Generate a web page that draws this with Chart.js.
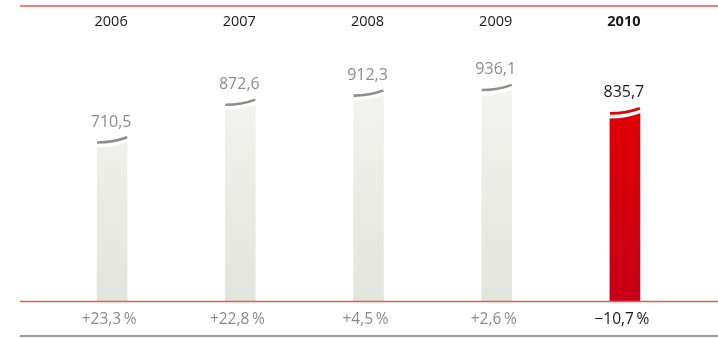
<!DOCTYPE html>
<html>
<head>
<meta charset="utf-8">
<script src="https://cdn.jsdelivr.net/npm/chart.js@4"></script>
<style>
  html, body { margin: 0; padding: 0; background: #fff; }
  #wrap { width: 718px; height: 338px; position: relative; }
</style>
</head>
<body>
<div id="wrap"><canvas id="c" width="718" height="338"></canvas></div>
<script>
const years = ['2006', '2007', '2008', '2009', '2010'];
const values = [710.5, 872.6, 912.3, 936.1, 835.7];
const changes = [23.3, 22.8, 4.5, 2.6, -10.7];
const highlight = [false, false, false, false, true];

const fmtVal = v => v.toFixed(1).replace('.', ',');
const fmtChg = v => (v >= 0 ? '+' : '\u2212') + Math.abs(v).toFixed(1).replace('.', ',') + '\u2009%';

const sans = '"Open Sans", "Noto Sans", sans-serif';

function barFill(context) {
  const chart = context.chart;
  const area = chart.chartArea;
  if (!area) return '#eee';
  const i = context.dataIndex;
  const g = chart.ctx.createLinearGradient(0, area.top + 60, 0, area.bottom);
  if (highlight[i]) {
    g.addColorStop(0, '#e60000');
    g.addColorStop(1, '#c70016');
  } else {
    g.addColorStop(0, '#f5f5f1');
    g.addColorStop(1, '#e4e4de');
  }
  return g;
}

const decor = {
  id: 'decor',
  beforeDraw(chart) {
    const ctx = chart.ctx;
    ctx.save();
    ctx.fillStyle = '#fff';
    ctx.fillRect(0, 0, chart.width, chart.height);
    ctx.restore();
  },
  afterDatasetsDraw(chart) {
    const ctx = chart.ctx;
    const meta = chart.getDatasetMeta(0);
    const xs = chart.scales.x;
    ctx.save();
    meta.data.forEach((bar, i) => {
      const w = bar.width;
      const L = bar.x - w / 2, R = bar.x + w / 2, y = bar.y;
      ctx.fillStyle = '#fff';
      ctx.beginPath();
      ctx.moveTo(L - 1, y - 2);
      ctx.lineTo(R + 1, y - 2);
      ctx.lineTo(R + 1, y + 6);
      ctx.quadraticCurveTo(L + w * 0.55, y + 11.5, L - 1, y + 11.5);
      ctx.closePath();
      ctx.fill();
      ctx.strokeStyle = highlight[i] ? '#e30000' : '#8e8e86';
      ctx.lineWidth = 2.6;
      ctx.lineCap = 'butt';
      ctx.beginPath();
      ctx.moveTo(L, y + 6.5);
      ctx.quadraticCurveTo(L + w * 0.55, y + 6.5, R, y + 1.3);
      ctx.stroke();
      ctx.fillStyle = highlight[i] ? '#1a1a1a' : '#8c8c8c';
      ctx.font = '16px ' + sans;
      ctx.textAlign = 'center';
      ctx.textBaseline = 'middle';
      ctx.fillText(fmtVal(values[i]), bar.x - 1, y - 14);
    });
    ctx.lineWidth = 1.5;
    ctx.strokeStyle = '#f05555';
    ctx.beginPath(); ctx.moveTo(20, 6); ctx.lineTo(718, 6); ctx.stroke();
    ctx.beginPath(); ctx.moveTo(20, 301.5); ctx.lineTo(718, 301.5); ctx.stroke();
    ctx.strokeStyle = '#9a9a9a';
    ctx.lineWidth = 2;
    ctx.beginPath(); ctx.moveTo(20, 336); ctx.lineTo(718, 336); ctx.stroke();
    ctx.textAlign = 'center';
    ctx.textBaseline = 'middle';
    years.forEach((yr, i) => {
      const x = xs.getPixelForValue(i);
      ctx.fillStyle = '#1a1a1a';
      ctx.font = (highlight[i] ? 'bold ' : '') + '14.5px ' + sans;
      ctx.fillText(yr, x - 1, 22);
      ctx.fillStyle = highlight[i] ? '#1a1a1a' : '#8a8a8a';
      ctx.font = '15.5px ' + sans;
      ctx.fillText(fmtChg(changes[i]), x - 3, 320);
    });
    ctx.restore();
  }
};

new Chart(document.getElementById('c'), {
  type: 'bar',
  data: {
    labels: years,
    datasets: [{
      data: values,
      backgroundColor: barFill,
      borderWidth: 0,
      barThickness: 30
    }]
  },
  options: {
    responsive: false,
    animation: false,
    layout: { padding: { top: 6, bottom: 37, left: 48, right: 29 } },
    plugins: { legend: { display: false }, tooltip: { enabled: false } },
    scales: {
      x: { display: false, offset: true, grid: { display: false } },
      y: { display: false, min: 0, max: 1270 }
    }
  },
  plugins: [decor]
});
</script>
</body>
</html>
